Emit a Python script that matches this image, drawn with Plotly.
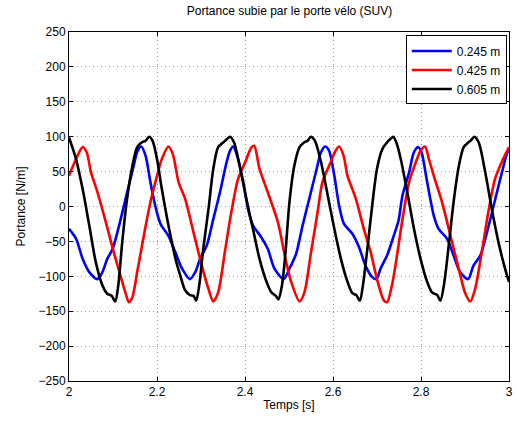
import plotly.graph_objects as go

# Series 0.245 m (blue)
t_blue = [2.000, 2.016, 2.031, 2.046, 2.065, 2.076, 2.087, 2.099, 2.114, 2.132, 2.147, 2.155, 2.164, 2.174, 2.185,
          2.196, 2.208, 2.226, 2.242, 2.257, 2.275, 2.287, 2.298, 2.313, 2.328, 2.343, 2.358, 2.366, 2.373, 2.381,
          2.396, 2.407, 2.418, 2.437, 2.452, 2.467, 2.488, 2.501, 2.516, 2.531, 2.546, 2.561, 2.573, 2.582, 2.591,
          2.603, 2.614, 2.625, 2.644, 2.659, 2.674, 2.689, 2.699, 2.708, 2.723, 2.738, 2.749, 2.758, 2.773, 2.784,
          2.794, 2.801, 2.814, 2.829, 2.840, 2.859, 2.874, 2.889, 2.907, 2.919, 2.935, 2.950, 2.965, 2.980, 2.995, 3.000]
v_blue = [-32, -46, -75, -94, -104, -94, -75, -61, -27, 20, 58, 78, 86, 73, 35,
          1, -25, -42, -66, -89, -104, -94, -75, -56, -18, 20, 63, 80, 86, 75,
          35, -4, -27, -44, -61, -89, -104, -89, -68, -27, 11, 49, 78, 86, 80,
          44, 1, -25, -39, -58, -85, -101, -104, -89, -70, -42, -20, 16, 49, 78,
          85, 78, 35, -13, -32, -46, -70, -94, -104, -85, -70, -37, 1, 39, 75, 82]

# Series 0.425 m (red)
t_red = [2.000, 2.016, 2.031, 2.040, 2.050, 2.065, 2.084, 2.102, 2.117, 2.129, 2.136, 2.144, 2.155, 2.170, 2.185,
         2.200, 2.211, 2.226, 2.236, 2.249, 2.264, 2.283, 2.302, 2.317, 2.328, 2.339, 2.354, 2.369, 2.384, 2.400,
         2.415, 2.421, 2.433, 2.452, 2.475, 2.492, 2.505, 2.524, 2.535, 2.550, 2.565, 2.576, 2.591, 2.606, 2.614,
         2.624, 2.633, 2.652, 2.670, 2.686, 2.700, 2.716, 2.723, 2.734, 2.746, 2.758, 2.773, 2.788, 2.799, 2.809,
         2.818, 2.829, 2.848, 2.867, 2.886, 2.901, 2.912, 2.923, 2.938, 2.953, 2.968, 2.983, 3.000]
v_red = [44, 68, 85, 78, 49, 20, -23, -66, -99, -125, -137, -130, -94, -42, 6,
         44, 68, 86, 75, 35, 11, -37, -85, -118, -136, -123, -66, -8, 39, 63,
         85, 87, 54, 20, -23, -75, -108, -136, -123, -66, -8, 35, 58, 80, 86,
         73, 44, 11, -32, -66, -104, -135, -137, -113, -68, -18, 35, 63, 80, 86,
         68, 44, 6, -42, -90, -125, -136, -118, -66, -8, 39, 63, 85]

# Series 0.605 m (black)
t_black = [2.000, 2.016, 2.031, 2.046, 2.061, 2.076, 2.087, 2.097, 2.105, 2.112, 2.121, 2.132, 2.144, 2.155, 2.166,
           2.174, 2.182, 2.190, 2.200, 2.211, 2.226, 2.242, 2.253, 2.264, 2.275, 2.283, 2.289, 2.296, 2.305, 2.317,
           2.328, 2.339, 2.351, 2.358, 2.366, 2.375, 2.388, 2.403, 2.418, 2.433, 2.449, 2.460, 2.470, 2.476, 2.484,
           2.492, 2.501, 2.512, 2.524, 2.535, 2.542, 2.550, 2.559, 2.573, 2.588, 2.603, 2.618, 2.633, 2.644, 2.653,
           2.661, 2.668, 2.678, 2.689, 2.700, 2.712, 2.723, 2.731, 2.737, 2.745, 2.754, 2.769, 2.784, 2.799, 2.814,
           2.825, 2.837, 2.844, 2.852, 2.863, 2.874, 2.886, 2.897, 2.908, 2.914, 2.921, 2.931, 2.946, 2.961, 2.976,
           2.991, 3.000]
v_black = [99, 68, 25, -27, -80, -113, -125, -128, -136, -113, -51, 11, 58, 85, 92,
           94, 100, 94, 68, 25, -27, -75, -99, -120, -127, -128, -135, -113, -61, -4,
           54, 85, 92, 96, 100, 92, 58, 11, -32, -75, -108, -123, -128, -133, -113,
           -66, 6, 58, 85, 92, 94, 100, 94, 63, 16, -32, -75, -108, -124, -127,
           -135, -113, -61, 1, 54, 82, 92, 97, 100, 90, 68, 20, -32, -75, -108,
           -123, -127, -135, -113, -56, 6, 58, 85, 92, 95, 100, 92, 49, -4, -51,
           -89, -108]

names = ["0.245 m", "0.425 m", "0.605 m"]
colors = ["#0000ff", "#ff0000", "#000000"]

x_ticks = [2, 2.2, 2.4, 2.6, 2.8, 3]
x_ticklabels = ["2", "2.2", "2.4", "2.6", "2.8", "3"]
y_ticks = [-250, -200, -150, -100, -50, 0, 50, 100, 150, 200, 250]
y_ticklabels = ["\u2212250", "\u2212200", "\u2212150", "\u2212100", "\u221250", "0", "50", "100", "150", "200", "250"]

fig = go.Figure()
for t, v, n, c in [(t_blue, v_blue, names[0], colors[0]),
                   (t_red, v_red, names[1], colors[1]),
                   (t_black, v_black, names[2], colors[2])]:
    fig.add_trace(go.Scatter(x=t, y=v, mode="lines", name=n,
                             line=dict(color=c, width=2.6, shape="spline", smoothing=0.8)))

font_family = "Liberation Sans, Arial, sans-serif"
axis_common = dict(showline=True, linecolor="black", linewidth=1, mirror="allticks",
                   ticks="inside", ticklen=4, tickcolor="black",
                   showgrid=True, gridcolor="#9a9a9a", griddash="1px,3px", gridwidth=1,
                   zeroline=False, tickfont=dict(size=12, color="black", family=font_family))

fig.update_xaxes(range=[2, 3], tickvals=x_ticks, ticktext=x_ticklabels,
                 title=dict(text="Temps [s]", font=dict(size=12, color="black", family=font_family), standoff=2),
                 **axis_common)
fig.update_yaxes(range=[-250, 250], tickvals=y_ticks, ticktext=y_ticklabels,
                 title=dict(text="Portance [N/m]", font=dict(size=12, color="black", family=font_family), standoff=10),
                 **axis_common)

fig.update_layout(
    width=517, height=421,
    margin=dict(l=69, r=4, t=32, b=40),
    paper_bgcolor="white", plot_bgcolor="white",
    title=dict(text="Portance subie par le porte vélo (SUV)", x=0.56, xanchor="center", y=0.985, yanchor="top",
               font=dict(size=12, color="black", family=font_family)),
    legend=dict(x=0.995, y=0.99, xanchor="right", yanchor="top",
                bgcolor="white", bordercolor="black", borderwidth=1,
                font=dict(size=12, color="black", family=font_family),
                itemwidth=40, tracegroupgap=0),
    showlegend=True,
)

fig.write_html("out.html")
